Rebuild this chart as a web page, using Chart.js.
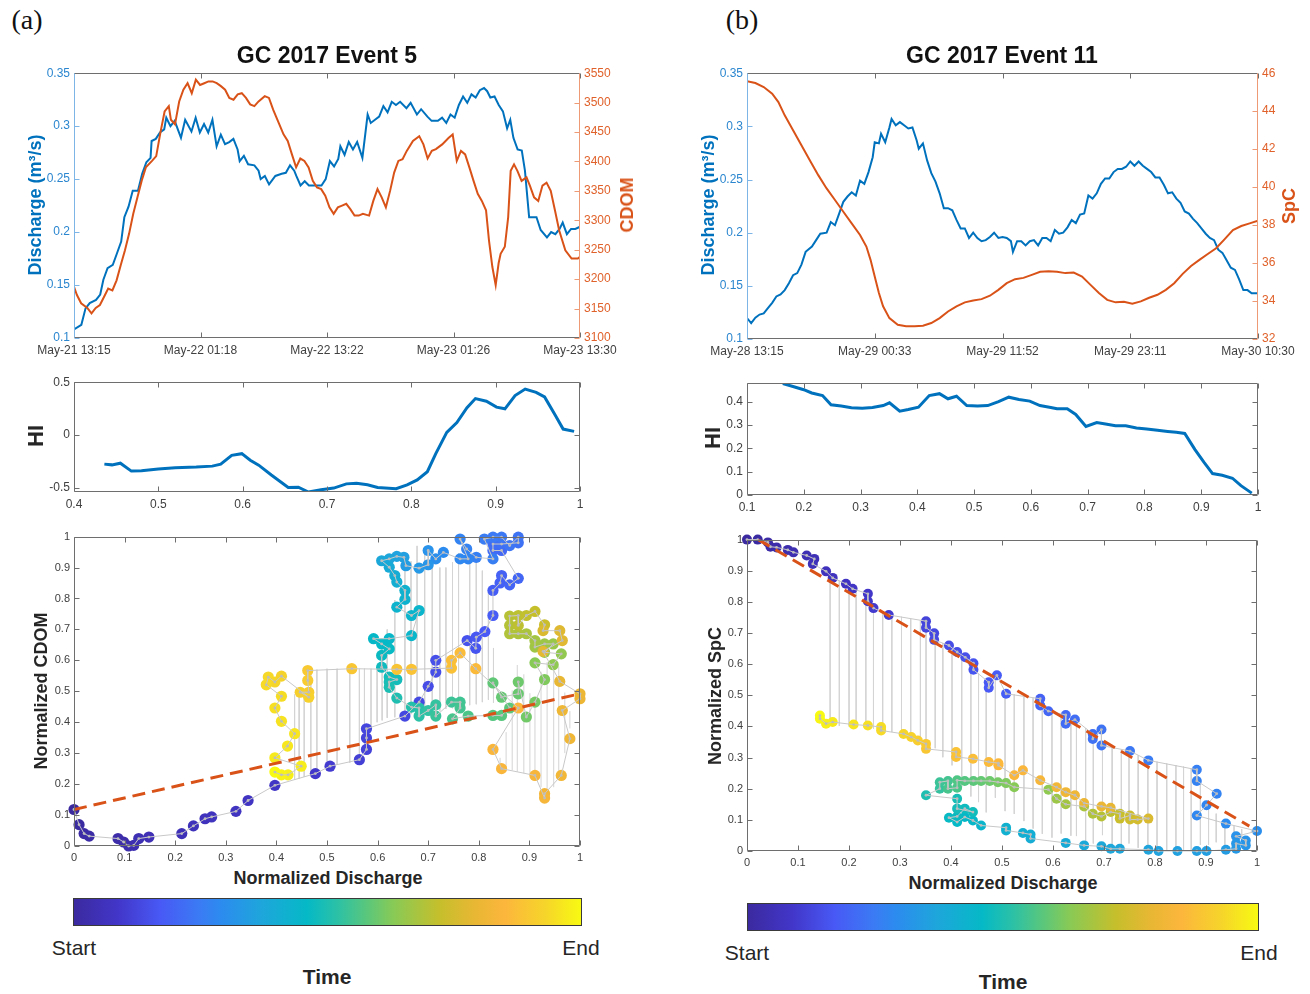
<!DOCTYPE html>
<html><head><meta charset="utf-8">
<script src="https://cdn.jsdelivr.net/npm/chart.js"></script>
<style>
body{margin:0;background:#fff;}
#root{position:relative;width:1310px;height:994px;overflow:hidden;font-family:'Liberation Sans',Arial,sans-serif;color:#262626;background:#fff}
canvas{position:absolute}
.t{position:absolute;white-space:nowrap;line-height:1}
.cb{position:absolute;border:1px solid #3a3a3a;box-sizing:border-box}
</style></head><body><div id="root"></div>
<script>
// ================= DATA =================
// Panel (a) time axis: hours since May-21 13:15
const timeTicksA = [0, 12.0625, 24.125, 36.1875, 48.25];
const timeLabelsA = ['May-21 13:15','May-22 01:18','May-22 13:22','May-23 01:26','May-23 13:30'];
const qA_h = [0,0.7,1.1,1.5,2.1,2.5,2.8,3.2,3.7,4.1,4.5,4.8,5.2,5.6,6.1,6.5,6.9,7.3,7.4,7.8,8.2,8.6,8.8,9.2,9.6,10.2,10.6,11.2,11.6,12.0,12.4,12.8,13.2,13.6,14.0,14.4,14.8,15.2,15.6,15.8,16.2,16.6,17.2,17.6,17.8,18.2,18.6,19.2,19.8,20.2,20.6,21.0,21.2,21.6,22.0,22.4,23.0,23.6,24.0,24.4,24.8,25.2,25.4,25.8,26.2,26.6,27.0,27.5,28.0,28.3,28.7,29.1,29.5,29.9,30.3,30.7,31.1,31.7,32.1,32.7,33.1,33.7,34.1,34.7,35.1,35.5,35.9,36.3,36.7,37.1,37.5,37.9,38.3,38.7,39.1,39.4,39.7,40.1,40.5,40.9,41.3,41.6,41.9,42.3,42.7,43.0,43.4,44.1,44.5,45.1,45.5,45.9,46.3,46.6,47.0,47.4,47.8,48.25];
const qA_v = [0.108,0.1125,0.128,0.133,0.136,0.141,0.155,0.166,0.169,0.180,0.191,0.214,0.224,0.239,0.239,0.255,0.266,0.270,0.286,0.288,0.294,0.297,0.308,0.300,0.305,0.289,0.306,0.295,0.308,0.294,0.302,0.294,0.306,0.281,0.292,0.283,0.285,0.288,0.278,0.267,0.272,0.264,0.263,0.258,0.250,0.253,0.245,0.253,0.255,0.256,0.263,0.258,0.253,0.244,0.248,0.244,0.244,0.244,0.250,0.267,0.262,0.269,0.281,0.273,0.285,0.278,0.285,0.270,0.311,0.303,0.306,0.309,0.319,0.313,0.323,0.320,0.323,0.317,0.322,0.311,0.316,0.309,0.305,0.305,0.308,0.303,0.311,0.308,0.320,0.328,0.322,0.330,0.327,0.334,0.336,0.333,0.327,0.328,0.320,0.314,0.298,0.306,0.289,0.278,0.277,0.258,0.214,0.214,0.202,0.195,0.200,0.198,0.203,0.209,0.198,0.203,0.203,0.205];
const cdomA_h = [0,0.28,0.68,1.27,1.67,2.07,2.47,2.87,3.26,3.66,4.06,4.46,4.86,5.25,5.65,6.05,6.45,6.85,7.44,7.84,8.24,8.64,9.04,9.24,9.63,10.03,10.43,10.83,11.23,11.62,12.02,12.42,12.82,13.22,13.61,14.01,14.41,14.81,15.21,15.61,16.0,16.4,16.8,17.2,17.6,18.19,18.59,18.99,19.39,19.98,20.38,20.78,21.18,21.58,21.97,22.37,22.77,23.17,23.57,23.96,24.36,24.76,25.16,25.56,25.96,26.35,26.75,27.15,27.55,28.14,28.54,28.94,29.34,29.74,30.14,30.53,30.93,31.33,31.73,32.32,32.92,33.32,33.72,34.12,34.51,35.11,35.71,36.11,36.5,36.9,37.3,37.7,38.1,38.5,38.89,39.29,39.57,39.89,40.21,40.49,40.68,41.08,41.4,41.64,41.96,42.28,42.68,43.15,43.47,43.87,44.27,44.67,45.06,45.46,45.86,46.26,46.85,47.45,48.05,48.25];
const cdomA_v = [3187,3173,3159,3151,3142,3151,3156,3170,3184,3181,3198,3224,3249,3277,3311,3339,3367,3390,3401,3409,3449,3485,3494,3471,3463,3502,3522,3533,3516,3539,3530,3533,3536,3536,3533,3528,3522,3508,3505,3514,3516,3508,3497,3494,3502,3511,3508,3488,3471,3446,3435,3412,3390,3405,3401,3390,3367,3356,3353,3342,3322,3311,3322,3325,3328,3319,3308,3308,3311,3308,3333,3353,3339,3322,3350,3381,3401,3404,3418,3435,3443,3429,3405,3418,3421,3429,3440,3446,3401,3418,3412,3390,3367,3345,3333,3317,3266,3221,3190,3227,3243,3255,3305,3384,3395,3384,3367,3373,3359,3339,3333,3359,3364,3350,3317,3283,3249,3235,3235,3238];
const qTicks = [0.1,0.15,0.2,0.25,0.3,0.35];
const cdomTicks = [3100,3150,3200,3250,3300,3350,3400,3450,3500,3550];

// Panel (b) time axis: hours since May-28 13:15
const timeTicksB = [0, 11.3125, 22.625, 33.9375, 45.25];
const timeLabelsB = ['May-28 13:15','May-29 00:33','May-29 11:52','May-29 23:11','May-30 10:30'];
const qB_h = [0,0.37,0.74,1.11,1.48,1.85,2.23,2.6,2.97,3.34,3.71,4.08,4.45,4.82,5.19,5.75,6.12,6.49,7.05,7.42,7.79,8.16,8.53,8.9,9.27,9.64,10.01,10.39,10.76,11.13,11.31,11.68,11.87,12.24,12.61,12.8,13.17,13.54,13.91,14.28,14.65,15.02,15.21,15.58,15.95,16.32,16.69,17.06,17.43,17.8,18.18,18.55,18.92,19.29,19.66,20.03,20.4,20.77,21.14,21.51,21.88,22.26,22.63,23.0,23.37,23.55,23.92,24.29,24.67,25.04,25.41,25.78,26.15,26.52,26.89,27.26,27.63,28.0,28.38,28.75,29.12,29.49,29.86,30.23,30.6,30.97,31.34,31.71,32.08,32.46,32.83,33.2,33.57,33.94,34.31,34.68,35.05,35.42,35.79,36.16,36.53,36.91,37.28,37.65,38.02,38.39,38.76,39.13,39.5,39.87,40.24,40.62,40.99,41.36,41.73,42.1,42.47,42.84,43.21,43.58,43.95,44.32,44.69,45.25];
const qB_v = [0.1197,0.115,0.12,0.123,0.124,0.129,0.134,0.14,0.142,0.146,0.1525,0.16,0.162,0.17,0.182,0.187,0.193,0.199,0.2,0.21,0.207,0.218,0.229,0.234,0.238,0.235,0.249,0.246,0.257,0.271,0.285,0.284,0.293,0.285,0.299,0.307,0.301,0.304,0.301,0.298,0.299,0.287,0.279,0.284,0.268,0.256,0.248,0.237,0.223,0.223,0.221,0.212,0.204,0.204,0.195,0.2,0.195,0.192,0.193,0.196,0.2,0.195,0.196,0.195,0.192,0.182,0.192,0.192,0.188,0.192,0.193,0.188,0.195,0.195,0.192,0.2025,0.199,0.2,0.205,0.212,0.209,0.217,0.218,0.235,0.232,0.237,0.246,0.251,0.251,0.257,0.26,0.26,0.262,0.267,0.263,0.267,0.263,0.26,0.257,0.252,0.252,0.245,0.237,0.238,0.232,0.228,0.22,0.218,0.213,0.209,0.204,0.199,0.195,0.193,0.184,0.181,0.174,0.167,0.165,0.156,0.146,0.146,0.143,0.143];
const spcB_h = [0,0.74,1.48,2.23,2.78,3.34,4.08,4.82,5.56,6.31,7.05,7.79,8.53,9.27,10.01,10.57,10.94,11.31,11.68,12.05,12.61,13.35,14.09,14.84,15.58,16.32,17.06,17.8,18.55,19.29,20.03,20.77,21.51,22.26,23.0,23.74,24.48,25.22,25.96,26.71,27.45,28.19,28.93,29.67,30.42,31.16,31.9,32.64,33.38,34.12,34.87,35.61,36.35,37.09,37.83,38.58,39.32,40.06,40.8,41.54,42.28,43.03,43.77,44.51,45.25];
const spcB_v = [45.58,45.48,45.27,44.92,44.48,43.78,42.99,42.2,41.42,40.63,39.93,39.32,38.7,38.09,37.48,36.87,36.17,35.29,34.42,33.72,33.1,32.75,32.67,32.67,32.7,32.84,33.1,33.45,33.72,33.93,34.03,34.1,34.28,34.59,34.94,35.15,35.22,35.38,35.54,35.57,35.54,35.47,35.5,35.29,34.85,34.42,34.06,33.93,33.96,33.86,33.98,34.17,34.33,34.59,34.94,35.43,35.85,36.17,36.48,36.78,37.25,37.74,37.95,38.09,38.23];
const spcTicks = [32,34,36,38,40,42,44,46];

// Hysteresis index
const hiA_x = [0.436,0.445,0.455,0.468,0.48,0.5,0.52,0.545,0.564,0.574,0.587,0.599,0.609,0.619,0.634,0.654,0.666,0.678,0.693,0.708,0.723,0.735,0.748,0.76,0.782,0.795,0.807,0.819,0.829,0.842,0.854,0.866,0.876,0.889,0.901,0.911,0.923,0.935,0.948,0.958,0.970,0.980,0.993];
const hiA_y = [-0.276,-0.283,-0.267,-0.342,-0.339,-0.323,-0.311,-0.304,-0.295,-0.276,-0.193,-0.177,-0.239,-0.286,-0.379,-0.497,-0.494,-0.540,-0.519,-0.503,-0.463,-0.457,-0.472,-0.497,-0.509,-0.472,-0.425,-0.348,-0.177,0.025,0.118,0.258,0.345,0.32,0.264,0.248,0.373,0.435,0.404,0.36,0.196,0.056,0.034];
const hiA_xTicks = [0.4,0.5,0.6,0.7,0.8,0.9,1];
const hiA_yTicks = [-0.5,0,0.5];
const hiB_x = [0.163,0.181,0.2,0.214,0.233,0.248,0.266,0.284,0.303,0.321,0.34,0.351,0.369,0.384,0.402,0.421,0.439,0.454,0.469,0.487,0.506,0.524,0.543,0.561,0.579,0.598,0.616,0.635,0.646,0.664,0.679,0.697,0.716,0.734,0.749,0.767,0.786,0.804,0.823,0.841,0.856,0.871,0.889,0.905,0.92,0.937,0.955,0.97,0.989];
const hiB_y = [0.478,0.466,0.452,0.438,0.427,0.387,0.382,0.375,0.372,0.376,0.384,0.396,0.36,0.367,0.377,0.427,0.435,0.413,0.424,0.384,0.382,0.384,0.401,0.42,0.41,0.403,0.384,0.376,0.37,0.37,0.346,0.294,0.311,0.304,0.297,0.297,0.288,0.283,0.278,0.273,0.269,0.264,0.195,0.14,0.092,0.085,0.072,0.04,0.008];
const hiB_xTicks = [0.1,0.2,0.3,0.4,0.5,0.6,0.7,0.8,0.9,1];
const hiB_yTicks = [0,0.1,0.2,0.3,0.4];

// Hysteresis loops: [normalized discharge, normalized concentration, time fraction]
const loopA = [
[0.0,0.118,0.0],[0.01,0.069,0.005],[0.02,0.04,0.01],[0.03,0.032,0.015],[0.087,0.024,0.02],[0.098,0.013,0.025],[0.108,0.0,0.03],[0.118,0.002,0.035],[0.128,0.024,0.04],[0.148,0.029,0.045],
[0.213,0.04,0.05],[0.236,0.065,0.055],[0.259,0.088,0.06],[0.272,0.094,0.065],[0.32,0.112,0.07],[0.344,0.147,0.075],[0.397,0.196,0.08],[0.477,0.234,0.09],[0.506,0.258,0.1],[0.564,0.279,0.11],
[0.578,0.312,0.115],[0.578,0.349,0.12],[0.578,0.379,0.125],[0.654,0.42,0.13],[0.682,0.465,0.135],[0.700,0.516,0.14],[0.715,0.562,0.145],[0.715,0.600,0.15],[0.777,0.664,0.155],[0.794,0.639,0.16],
[0.795,0.675,0.165],[0.812,0.693,0.17],[0.828,0.745,0.175],[0.828,0.826,0.18],[0.842,0.85,0.185],[0.845,0.874,0.19],[0.861,0.844,0.195],[0.878,0.865,0.2],
[0.845,0.955,0.205],[0.828,0.955,0.21],[0.828,0.976,0.215],[0.845,0.976,0.22],[0.878,0.98,0.225],[0.878,0.998,0.23],[0.861,0.971,0.235],[0.845,0.998,0.24],[0.828,0.998,0.245],[0.811,0.992,0.25],
[0.828,0.928,0.255],[0.795,0.933,0.26],[0.776,0.96,0.265],[0.763,0.992,0.27],[0.779,0.928,0.275],[0.763,0.928,0.28],
[0.730,0.949,0.29],[0.715,0.928,0.30],[0.700,0.955,0.31],[0.700,0.909,0.32],[0.682,0.898,0.33],[0.656,0.906,0.34],[0.652,0.933,0.35],[0.638,0.936,0.36],[0.623,0.928,0.37],[0.608,0.922,0.38],[0.623,0.901,0.39],
[0.634,0.874,0.40],[0.638,0.853,0.41],[0.654,0.826,0.42],[0.654,0.797,0.425],[0.638,0.772,0.43],[0.667,0.745,0.435],[0.682,0.761,0.44],[0.667,0.68,0.445],[0.623,0.67,0.45],[0.592,0.67,0.455],
[0.608,0.653,0.46],[0.623,0.637,0.465],[0.608,0.616,0.47],[0.608,0.578,0.475],
[0.623,0.546,0.48],[0.638,0.538,0.485],[0.623,0.53,0.49],[0.623,0.513,0.495],[0.638,0.478,0.50],[0.667,0.449,0.51],[0.682,0.446,0.515],[0.682,0.42,0.52],[0.700,0.438,0.525],[0.715,0.456,0.53],
[0.715,0.42,0.535],[0.746,0.465,0.54],[0.763,0.465,0.545],[0.763,0.446,0.55],[0.748,0.411,0.555],[0.779,0.42,0.56],
[0.828,0.422,0.57],[0.845,0.422,0.575],[0.861,0.446,0.58],[0.828,0.527,0.585],[0.845,0.481,0.59],[0.878,0.492,0.595],[0.878,0.53,0.60],[0.894,0.417,0.605],[0.911,0.465,0.61],[0.930,0.538,0.62],
[0.911,0.592,0.63],[0.947,0.586,0.64],[0.963,0.621,0.645],[0.930,0.626,0.65],[0.947,0.653,0.655],[0.930,0.653,0.66],[0.911,0.643,0.665],[0.911,0.664,0.67],
[0.894,0.686,0.68],[0.878,0.686,0.685],[0.861,0.686,0.69],[0.861,0.713,0.695],[0.861,0.743,0.70],[0.878,0.745,0.705],[0.878,0.713,0.71],[0.894,0.745,0.715],[0.911,0.758,0.72],[0.930,0.715,0.73],
[0.927,0.696,0.76],[0.960,0.696,0.77],[0.965,0.664,0.775],[0.927,0.629,0.78],[0.960,0.532,0.79],
[1.0,0.492,0.80],[1.0,0.476,0.805],[0.965,0.438,0.81],[0.980,0.347,0.815],[0.963,0.228,0.82],[0.930,0.169,0.825],[0.930,0.155,0.83],[0.911,0.228,0.835],[0.845,0.25,0.84],[0.828,0.312,0.845],
[0.878,0.446,0.85],[0.794,0.573,0.86],[0.763,0.624,0.865],[0.746,0.6,0.87],[0.746,0.575,0.875],[0.667,0.571,0.88],[0.638,0.571,0.885],[0.549,0.573,0.89],
[0.462,0.567,0.90],[0.462,0.535,0.905],[0.464,0.497,0.91],[0.447,0.497,0.915],[0.464,0.481,0.92],[0.41,0.549,0.925],[0.397,0.53,0.93],[0.384,0.546,0.935],[0.38,0.521,0.94],[0.41,0.484,0.945],
[0.397,0.446,0.95],[0.41,0.403,0.955],[0.436,0.363,0.96],[0.422,0.323,0.965],[0.397,0.285,0.97],[0.449,0.258,0.975],[0.423,0.23,0.98],[0.41,0.23,0.985],[0.397,0.239,1.0]
];
const loopB = [
[0.0,1.0,0.0],[0.021,1.0,0.006],[0.041,0.991,0.012],[0.046,0.977,0.018],[0.058,0.975,0.024],[0.080,0.967,0.03],[0.091,0.959,0.036],[0.117,0.949,0.042],[0.132,0.938,0.048],[0.129,0.922,0.054],
[0.155,0.898,0.06],[0.168,0.877,0.066],[0.194,0.858,0.072],[0.207,0.842,0.078],[0.237,0.826,0.084],[0.237,0.802,0.09],[0.248,0.780,0.096],[0.278,0.758,0.10],
[0.351,0.738,0.12],[0.351,0.717,0.125],[0.367,0.699,0.13],[0.367,0.678,0.135],[0.396,0.660,0.14],[0.412,0.639,0.145],[0.428,0.622,0.15],[0.444,0.603,0.155],[0.444,0.582,0.16],[0.474,0.542,0.165],
[0.474,0.524,0.17],[0.490,0.564,0.175],[0.508,0.505,0.18],[0.575,0.489,0.19],[0.575,0.467,0.195],[0.591,0.449,0.20],[0.625,0.437,0.205],[0.625,0.409,0.21],[0.643,0.422,0.215],
[0.678,0.376,0.22],[0.678,0.360,0.225],[0.695,0.390,0.23],[0.695,0.339,0.235],[0.751,0.321,0.24],[0.787,0.291,0.25],[0.882,0.261,0.26],[0.882,0.225,0.265],[0.921,0.184,0.27],[0.901,0.147,0.275],
[0.882,0.114,0.28],[0.939,0.088,0.29],[1.0,0.064,0.30],[0.959,0.047,0.31],[0.978,0.034,0.315],[0.978,0.018,0.32],[0.959,0.024,0.325],[0.959,0.007,0.33],
[0.939,0.004,0.34],[0.901,0.0,0.345],[0.882,0.0,0.35],[0.844,0.0,0.355],[0.807,0.0,0.36],[0.787,0.004,0.365],[0.731,0.007,0.37],[0.713,0.007,0.375],[0.695,0.015,0.38],[0.661,0.018,0.385],
[0.625,0.026,0.39],[0.556,0.040,0.40],[0.556,0.053,0.405],[0.541,0.058,0.41],[0.508,0.066,0.415],[0.508,0.075,0.42],
[0.459,0.082,0.44],[0.443,0.098,0.45],[0.427,0.109,0.455],[0.412,0.093,0.46],[0.396,0.107,0.465],[0.412,0.111,0.47],[0.427,0.136,0.475],[0.443,0.125,0.48],[0.412,0.136,0.485],[0.412,0.168,0.49],
[0.351,0.179,0.50],
[0.378,0.200,0.53],[0.378,0.221,0.54],[0.394,0.225,0.55],[0.394,0.200,0.555],[0.412,0.203,0.56],[0.412,0.227,0.565],[0.427,0.225,0.57],[0.444,0.225,0.58],[0.459,0.225,0.59],[0.476,0.225,0.60],
[0.492,0.221,0.61],[0.508,0.218,0.62],[0.524,0.205,0.63],[0.591,0.197,0.64],[0.607,0.168,0.66],[0.625,0.150,0.67],[0.661,0.143,0.68],[0.678,0.120,0.69],[0.695,0.111,0.70],
[0.713,0.125,0.71],[0.731,0.120,0.72],[0.731,0.104,0.73],[0.751,0.114,0.735],[0.751,0.101,0.74],[0.766,0.101,0.75],[0.787,0.104,0.76],
[0.713,0.139,0.79],[0.695,0.143,0.80],[0.661,0.154,0.805],[0.643,0.179,0.81],[0.625,0.189,0.815],[0.607,0.205,0.82],[0.575,0.227,0.83],[0.541,0.259,0.84],[0.524,0.243,0.845],[0.493,0.275,0.85],
[0.493,0.282,0.855],[0.474,0.286,0.86],[0.443,0.296,0.87],[0.41,0.302,0.875],[0.41,0.318,0.88],
[0.351,0.328,0.89],[0.351,0.344,0.90],[0.335,0.355,0.91],[0.322,0.366,0.92],[0.307,0.376,0.93],[0.263,0.387,0.94],[0.263,0.398,0.945],[0.237,0.403,0.95],[0.209,0.406,0.96],[0.168,0.414,0.97],
[0.155,0.409,0.98],[0.143,0.425,0.99],[0.143,0.435,1.0]
];
// limb values used for the vertical HI connectors (at hiA_x / hiB_x)
const vFallA = [0.49,0.50,0.49,0.57,0.57,0.573,0.573,0.573,0.573,0.573,0.573,0.577,0.645,0.70,0.795,0.917,0.92,0.97,0.95,0.94,0.90,0.90,0.917,0.947,0.964,0.93,0.89,0.82,0.64,0.26,0.25,0.245,0.24,0.235,0.23,0.228,0.19,0.16,0.19,0.22,0.30,0.38,0.46];
const vRiseB = [0.885,0.868,0.852,0.838,0.828,0.78,0.765,0.757,0.752,0.746,0.741,0.728,0.69,0.668,0.652,0.633,0.61,0.57,0.548,0.555,0.51,0.503,0.497,0.492,0.465,0.446,0.44,0.425,0.418,0.395,0.37,0.345,0.333,0.326,0.321,0.307,0.292,0.287,0.281,0.276,0.271,0.266,0.215,0.16,0.12,0.095,0.08,0.07,0.066];
// linear fits (dashed)
const fitA_x = [0, 1], fitA_y = [0.118, 0.492];
const fitB_x = [0.022, 0.985], fitB_y = [1.0, 0.08];
const normTicks = [0,0.1,0.2,0.3,0.4,0.5,0.6,0.7,0.8,0.9,1];

// colormap (time)
const cmapPos = [0,0.087,0.17,0.25,0.29,0.37,0.46,0.52,0.58,0.63,0.72,0.79,0.85,0.93,1];
const cmapHex = ['#3B2A9F','#4236C9','#4859F5','#3A7CF4','#2C8BEF','#1EA6DB','#05B9C6','#2CC1A6','#5CC77A','#88CA56','#C5BF2C','#E8B733','#FCB63C','#F6D52A','#F8FA12'];

// ================= RENDER =================
const FONT = "'Liberation Sans', Arial, sans-serif";
Chart.defaults.font.family = FONT;
Chart.defaults.color = '#404040';
const root = document.getElementById('root');

function hexRgb(h){return [parseInt(h.substr(1,2),16),parseInt(h.substr(3,2),16),parseInt(h.substr(5,2),16)];}
function cmap(t){
  t = Math.max(0, Math.min(1, t));
  let i = 0;
  while (i < cmapPos.length - 2 && t > cmapPos[i+1]) i++;
  const f = (t - cmapPos[i]) / (cmapPos[i+1] - cmapPos[i]);
  const a = hexRgb(cmapHex[i]), b = hexRgb(cmapHex[i+1]);
  return 'rgb(' + a.map((v,k)=>Math.round(v + (b[k]-v)*f)).join(',') + ')';
}
function zip(xs, ys){ return xs.map((x,i)=>({x, y: ys[i]})); }
const fmt = v => String(+(+v).toFixed(2));

function addText(txt, x, y, css, rot){
  const d = document.createElement('div');
  d.className = 't';
  d.textContent = txt;
  d.style.cssText += css;
  d.style.left = x + 'px'; d.style.top = y + 'px';
  d.style.transform = 'translate(-50%,-50%)' + (rot ? ' rotate(-90deg)' : '');
  root.appendChild(d);
}

const boxPlugin = {
  id: 'box',
  afterDatasetsDraw(chart, args, o) {
    const {ctx, chartArea: a} = chart;
    const L = Math.round(a.left) + 0.5, R = Math.round(a.right) - 0.5;
    const T = Math.round(a.top) + 0.5, B = Math.round(a.bottom) - 0.5;
    const len = 5;
    ctx.save();
    ctx.lineWidth = 1;
    const line = (x1,y1,x2,y2,c) => { ctx.strokeStyle = c; ctx.beginPath(); ctx.moveTo(x1,y1); ctx.lineTo(x2,y2); ctx.stroke(); };
    const xs = chart.scales.x;
    xs.ticks.forEach(tk => {
      const px = Math.round(xs.getPixelForValue(tk.value)) + 0.5;
      line(px, B, px, B - len, o.bottom);
      line(px, T, px, T + len, o.top);
    });
    const ys = chart.scales.y, y2 = chart.scales.y2;
    ys.ticks.forEach(tk => {
      const py = Math.round(ys.getPixelForValue(tk.value)) + 0.5;
      line(L, py, L + len, py, o.left);
      if (!y2) line(R, py, R - len, py, o.right);
    });
    if (y2) y2.ticks.forEach(tk => {
      const py = Math.round(y2.getPixelForValue(tk.value)) + 0.5;
      line(R, py, R - len, py, o.right);
    });
    line(L, T, R, T, o.top); line(L, B, R, B, o.bottom);
    line(L, T, L, B, o.left); line(R, T, R, B, o.right);
    ctx.restore();
  }
};

function axis(pos, min, max, ticks, size, color, fontSize, labelFn){
  const horiz = pos === 'bottom';
  return {
    type: 'linear', position: pos, min, max,
    afterBuildTicks: s => { s.ticks = ticks.map(v => ({value: v})); },
    afterFit: s => { if (horiz) s.height = size; else s.width = size; },
    grid: {display: false, drawTicks: false},
    border: {display: false},
    ticks: {color, font: {family: FONT, size: fontSize}, padding: horiz ? 5 : 4,
            autoSkip: false, maxRotation: 0, minRotation: 0, callback: labelFn || fmt}
  };
}

function makeChart(plot, m, datasets, scales, box){
  const c = document.createElement('canvas');
  const W = plot.w + m.l + m.r, H = plot.h + m.t + m.b;
  c.width = W; c.height = H;
  c.style.left = (plot.x - m.l) + 'px'; c.style.top = (plot.y - m.t) + 'px';
  c.style.width = W + 'px'; c.style.height = H + 'px';
  root.appendChild(c);
  return new Chart(c, {
    type: 'scatter',
    data: {datasets},
    options: {
      responsive: false, animation: false, devicePixelRatio: 1, events: [],
      layout: {padding: {top: m.t, left: 0, right: scales.y2 ? 0 : m.r, bottom: 0}},
      scales,
      plugins: {legend: {display: false}, tooltip: {enabled: false}, box}
    },
    plugins: [boxPlugin]
  });
}

const BLUE = '#0072BD', ORANGE = '#D95319';
const blueTick = '#2B86CF', orangeTick = '#E0612A', blueEdge = '#7DB6E6', orangeEdge = '#EE9A74';
const edge = '#6E6E6E', tickTxt = '#404040';
const lineDs = (data, color, width, extra) => Object.assign({data, showLine: true, borderColor: color, borderWidth: width, pointRadius: 0, fill: false}, extra || {});

// ---- Time series (a) ----
makeChart({x:74, y:72, w:506, h:266}, {l:50, r:50, t:10, b:25}, [
  lineDs(zip(cdomA_h, cdomA_v), ORANGE, 2, {yAxisID: 'y2', order: 1}),
  lineDs(zip(qA_h, qA_v), BLUE, 2, {yAxisID: 'y', order: 2})
], {
  x: axis('bottom', 0, 48.25, timeTicksA, 25, tickTxt, 12, (v,i) => timeLabelsA[i]),
  y: axis('left', 0.1, 0.35, qTicks, 50, blueTick, 12),
  y2: axis('right', 3100, 3550, cdomTicks, 50, orangeTick, 12)
}, {top: edge, bottom: edge, left: blueEdge, right: orangeEdge});

// ---- Time series (b) ----
makeChart({x:747, y:72, w:511, h:267}, {l:50, r:50, t:10, b:25}, [
  lineDs(zip(spcB_h, spcB_v), ORANGE, 2, {yAxisID: 'y2', order: 1}),
  lineDs(zip(qB_h, qB_v), BLUE, 2, {yAxisID: 'y', order: 2})
], {
  x: axis('bottom', 0, 45.25, timeTicksB, 25, tickTxt, 12, (v,i) => timeLabelsB[i]),
  y: axis('left', 0.1, 0.35, qTicks, 50, blueTick, 12),
  y2: axis('right', 32, 46, spcTicks, 50, orangeTick, 12)
}, {top: edge, bottom: edge, left: blueEdge, right: orangeEdge});

// ---- HI (a) ----
const gbox = {top: edge, bottom: edge, left: edge, right: edge};
makeChart({x:74, y:381, w:506, h:111}, {l:45, r:12, t:10, b:22}, [
  lineDs(zip(hiA_x, hiA_y), BLUE, 3)
], {
  x: axis('bottom', 0.4, 1, hiA_xTicks, 22, tickTxt, 12),
  y: axis('left', -0.54, 0.5, hiA_yTicks, 45, tickTxt, 12)
}, gbox);

// ---- HI (b) ----
makeChart({x:747, y:382, w:511, h:113}, {l:45, r:12, t:10, b:22}, [
  lineDs(zip(hiB_x, hiB_y), BLUE, 3)
], {
  x: axis('bottom', 0.1, 1, hiB_xTicks, 22, tickTxt, 12),
  y: axis('left', 0, 0.48, hiB_yTicks, 45, tickTxt, 12)
}, gbox);

// ---- Hysteresis scatter ----
function connectors(xs, base, his, sign){
  const out = [];
  xs.forEach((x,i) => { out.push({x, y: base[i]}, {x, y: base[i] + sign*his[i]}, {x, y: null}); });
  return out;
}
function loopCharts(plot, loop, conn, fx, fy, r){
  return makeChart(plot, {l:45, r:12, t:10, b:22}, [
    lineDs(zip(fx, fy), '#D95319', 3, {borderDash: [13, 7], order: 1}),
    {data: loop.map(p => ({x:p[0], y:p[1]})), showLine: true, borderColor: '#c8c8c8', borderWidth: 1,
     pointRadius: 1.4, pointBackgroundColor: '#bdbdbd', pointBorderWidth: 0, order: 2, clip: false},
    {data: loop.map(p => ({x:p[0], y:p[1]})), showLine: false, pointRadius: r, pointBorderWidth: 0,
     pointBackgroundColor: loop.map(p => cmap(p[2])), backgroundColor: loop.map(p => cmap(p[2])), order: 3, clip: false},
    lineDs(conn, '#d4d4d4', 1, {spanGaps: false, order: 4})
  ], {
    x: axis('bottom', 0, 1, normTicks, 22, tickTxt, 11),
    y: axis('left', 0, 1, normTicks, 45, tickTxt, 11)
  }, gbox);
}
loopCharts({x:74, y:536, w:506, h:310}, loopA, connectors(hiA_x, vFallA, hiA_y, 1), fitA_x, fitA_y, 5.6);
loopCharts({x:747, y:539, w:510, h:312}, loopB, connectors(hiB_x, vRiseB, hiB_y, -1), fitB_x, fitB_y, 5);

// ---- Colorbars ----
function colorbar(x, y, w, h){
  const d = document.createElement('div');
  d.className = 'cb';
  d.style.left = x + 'px'; d.style.top = y + 'px'; d.style.width = w + 'px'; d.style.height = h + 'px';
  d.style.background = 'linear-gradient(to right,' + cmapPos.map((p,i) => cmapHex[i] + ' ' + (p*100) + '%').join(',') + ')';
  root.appendChild(d);
}
colorbar(73, 898, 509, 28);
colorbar(747, 903, 512, 28);

// ---- Text ----
const serif = 'font-family:"Liberation Serif","Times New Roman",serif;font-size:28px;color:#111;';
addText('(a)', 27, 20, serif);
addText('(b)', 742, 20, serif);
const ttl = 'font-weight:bold;font-size:23px;color:#111;';
addText('GC 2017 Event 5', 327, 55, ttl);
addText('GC 2017 Event 11', 1002, 55, ttl);
const lab = 'font-weight:bold;font-size:18px;color:#262626;';
addText('Discharge (m\u00B3/s)', 35, 205, 'font-weight:bold;font-size:18px;color:#0072BD;', true);
addText('CDOM', 627, 205, 'font-weight:bold;font-size:18px;color:#D95319;', true);
addText('Discharge (m\u00B3/s)', 708, 205, 'font-weight:bold;font-size:18px;color:#0072BD;', true);
addText('SpC', 1289, 206, 'font-weight:bold;font-size:18px;color:#D95319;', true);
addText('HI', 36, 436, 'font-weight:bold;font-size:22px;color:#262626;', true);
addText('HI', 713, 438, 'font-weight:bold;font-size:22px;color:#262626;', true);
addText('Normalized CDOM', 41, 691, lab, true);
addText('Normalized SpC', 715, 696, lab, true);
addText('Normalized Discharge', 328, 878, lab);
addText('Normalized Discharge', 1003, 883, lab);
const se = 'font-size:21px;color:#262626;';
const tm = 'font-weight:bold;font-size:21px;color:#262626;';
addText('Start', 74, 947, se); addText('End', 581, 947, se); addText('Time', 327, 976, tm);
addText('Start', 747, 952, se); addText('End', 1259, 952, se); addText('Time', 1003, 981, tm);
</script>
</body></html>
